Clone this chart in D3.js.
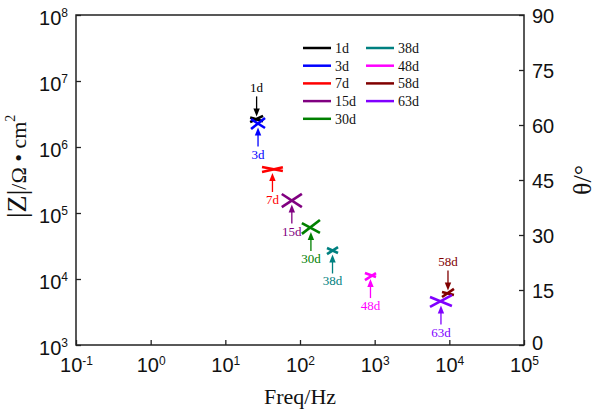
<!DOCTYPE html>
<html>
<head>
<meta charset="utf-8">
<script src="https://cdn.jsdelivr.net/npm/d3@7"></script>
<style>
  body { margin: 0; background: #fff; }
  svg { display: block; }
</style>
</head>
<body>
<div id="chart"></div>
<script>
// data
var days = ["1d", "3d", "7d", "15d", "30d", "38d", "48d", "58d", "63d"];
var colors = ["#000000", "#0000ff", "#ff0000", "#800080", "#008000", "#008080", "#ff00ff", "#800000", "#8000ff"];
var freq = [[21.5, 32], [22.1, 34], [31, 59], [57, 106], [106, 185], [230, 323], [741, 1042], [7980, 11530], [5510, 10830]];
var zmod = [[2.8e6, 2.45e6], [2.65e6, 1.94e6], [4.98e5, 4.33e5], [1.94e5, 1.23e5], [7.05e4, 4.98e4], [2.95e4, 2.48e4], [1.23e4, 1.07e4], [6350, 5730], [5330, 3900]];
var theta = [[60.8, 62.5], [58.9, 61.9], [47.2, 48.5], [37.6, 41.2], [30.3, 34.1], [24.8, 26.7], [17.7, 19.6], [13.1, 15.3], [10.4, 13.6]];
var labelSide = ["above", "below", "below", "below", "below", "below", "below", "above", "below"];

var xTicks = [1e-1, 1, 10, 100, 1e3, 1e4, 1e5];
var yTicks = [1e3, 1e4, 1e5, 1e6, 1e7, 1e8];
var thetaTicks = [0, 15, 30, 45, 60, 75, 90];

var svgWidth = 600;
var svgHeight = 416;
var margin = { top: 15, right: 76, bottom: 71, left: 76 };
var width = svgWidth - margin.left - margin.right;
var height = svgHeight - margin.top - margin.bottom;

var svg = d3.select("#chart").append("svg")
  .attr("width", svgWidth)
  .attr("height", svgHeight);

var chartGroup = svg.append("g")
  .attr("transform", `translate(${margin.left}, ${margin.top})`);

var x = d3.scaleLog().domain([1e-1, 1e5]).range([0, width]);
var yZ = d3.scaleLog().domain([1e3, 1e8]).range([height, 0]);
var yT = d3.scaleLinear().domain([0, 90]).range([height, 0]);

var axisFont = "'Liberation Sans', Arial, sans-serif";
var serif = "'Liberation Serif', 'Times New Roman', serif";

// axes (ticks inward)
var xAxis = chartGroup.append("g")
  .attr("transform", `translate(0, ${height})`)
  .call(d3.axisBottom(x).tickValues(xTicks).tickSize(-5).tickSizeOuter(0).tickFormat(""));
var yAxis = chartGroup.append("g")
  .call(d3.axisLeft(yZ).tickValues(yTicks).tickSize(-5).tickSizeOuter(0).tickFormat(""));
var tAxis = chartGroup.append("g")
  .attr("transform", `translate(${width}, 0)`)
  .call(d3.axisRight(yT).tickValues(thetaTicks).tickSize(-5).tickSizeOuter(0).tickFormat(""));

[xAxis, yAxis, tAxis].forEach(function(a) {
  a.select(".domain").remove();
  a.selectAll("line").attr("stroke", "#222").attr("stroke-width", 1.3);
});

function powLabel(sel, v, up) {
  var e = Math.round(Math.log10(v));
  sel.append("tspan").text("10");
  sel.append("tspan").attr("font-size", 12).attr("dy", up).text(e);
}

xAxis.selectAll(".tick").each(function(d) {
  var t = d3.select(this).append("text")
    .attr("y", 27)
    .attr("fill", "#111")
    .attr("font-family", axisFont)
    .attr("font-size", 20)
    .attr("text-anchor", "middle");
  powLabel(t, d, -7);
});

yAxis.selectAll(".tick").each(function(d) {
  var t = d3.select(this).append("text")
    .attr("x", -8)
    .attr("y", 9)
    .attr("fill", "#111")
    .attr("font-family", axisFont)
    .attr("font-size", 20)
    .attr("text-anchor", "end");
  powLabel(t, d, -8);
});

tAxis.selectAll(".tick").append("text")
  .attr("x", 8)
  .attr("y", d => d === 0 ? 4 : 7)
  .attr("fill", "#111")
  .attr("font-family", axisFont)
  .attr("font-size", 20)
  .attr("text-anchor", "start")
  .text(d => d);

// frame
chartGroup.append("rect")
  .attr("width", width)
  .attr("height", height)
  .attr("fill", "none")
  .attr("stroke", "#222")
  .attr("stroke-width", 1.5);

// axis titles
svg.append("text")
  .attr("x", margin.left + width / 2)
  .attr("y", 404)
  .attr("text-anchor", "middle")
  .attr("font-family", serif)
  .attr("font-size", 22)
  .attr("fill", "#111")
  .text("Freq/Hz");

var yTitle = svg.append("text")
  .attr("transform", "translate(26, 218) rotate(-90)")
  .attr("text-anchor", "start")
  .attr("font-family", serif)
  .attr("fill", "#111");
yTitle.append("tspan").attr("font-size", 28).text("|Z|");
yTitle.append("tspan").attr("font-size", 22).text("/Ω • cm");
yTitle.append("tspan").attr("font-size", 14).attr("dy", -11).text("2");

svg.append("text")
  .attr("transform", "translate(591, 180) rotate(-90)")
  .attr("text-anchor", "middle")
  .attr("font-family", serif)
  .attr("font-size", 26)
  .attr("fill", "#111")
  .text("θ/°");

// data segments: |Z| and phase for each immersion time
var zLine = d3.line().x(d => x(d[0])).y(d => yZ(d[1]));
var tLine = d3.line().x(d => x(d[0])).y(d => yT(d[1]));

days.forEach(function(day, i) {
  var g = chartGroup.append("g").attr("class", "series");
  var zPts = freq[i].map((f, j) => [f, zmod[i][j]]);
  var tPts = freq[i].map((f, j) => [f, theta[i][j]]);
  g.append("path").attr("d", zLine(zPts))
    .attr("fill", "none").attr("stroke", colors[i]).attr("stroke-width", 2.6);
  g.append("path").attr("d", tLine(tPts))
    .attr("fill", "none").attr("stroke", colors[i]).attr("stroke-width", 2.6);

  // arrow + label
  var cx = x(Math.sqrt(freq[i][0] * freq[i][1]));
  var cy = yZ(Math.sqrt(zmod[i][0] * zmod[i][1]));
  var up = labelSide[i] === "below";
  var tipY = up ? cy + 4 : cy - 3;
  var tailY = up ? cy + 23 : cy - 23;
  var dir = up ? -1 : 1;
  g.append("line")
    .attr("x1", cx).attr("x2", cx)
    .attr("y1", tailY).attr("y2", tipY - dir * 5)
    .attr("stroke", colors[i]).attr("stroke-width", 1.3);
  g.append("path")
    .attr("d", `M${cx},${tipY} L${cx - 3.2},${tipY - dir * 8} L${cx + 3.2},${tipY - dir * 8} Z`)
    .attr("fill", colors[i]);
  g.append("text")
    .attr("x", cx)
    .attr("y", up ? cy + 35 : cy - 27)
    .attr("text-anchor", "middle")
    .attr("font-family", serif)
    .attr("font-size", 13)
    .attr("fill", colors[i])
    .text(day);
});

// legend, two columns
var legend = svg.append("g");
var rowGap = 17.7;
days.forEach(function(day, i) {
  var col = i < 5 ? 0 : 1;
  var row = col === 0 ? i : i - 5;
  var lx = col === 0 ? 303 : 366;
  var ly = 48 + row * rowGap;
  legend.append("line")
    .attr("x1", lx).attr("x2", lx + 28)
    .attr("y1", ly).attr("y2", ly)
    .attr("stroke", colors[i]).attr("stroke-width", 2.5);
  legend.append("text")
    .attr("x", lx + 32)
    .attr("y", ly + 5)
    .attr("font-family", serif)
    .attr("font-size", 14)
    .attr("fill", "#111")
    .text(day);
});
</script>
</body>
</html>
